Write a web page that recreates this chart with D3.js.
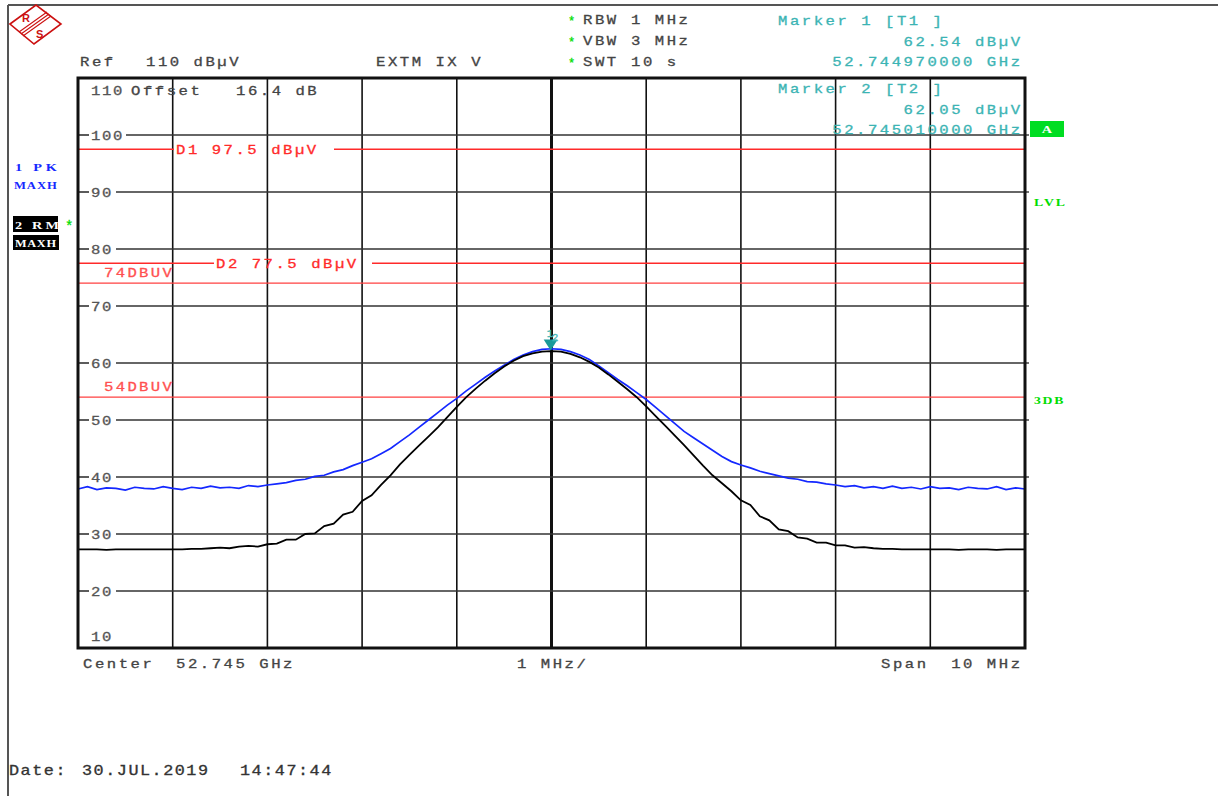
<!DOCTYPE html>
<html>
<head>
<meta charset="utf-8">
<script src="https://cdn.jsdelivr.net/npm/d3@7"></script>
<style>
  body { margin: 0; background: #fff; }
  svg text { font-family: "Liberation Mono", "DejaVu Sans Mono", monospace; white-space: pre; }
</style>
</head>
<body>
<svg id="chart" width="1218" height="796"></svg>
<script>
// sweep: 101 points, -5 .. +5 MHz around 52.745 GHz
const spanStart = -5, spanStep = 0.1;

// trace 1 (PK, MAXH) in dBµV
const trace1 = [
  37.9, 38.3, 37.8, 38.1, 38.0, 37.7, 38.2, 38.0, 37.9, 38.3,
  38.0, 37.8, 38.2, 38.0, 38.4, 38.1, 38.2, 38.0, 38.5, 38.3,
  38.6, 38.8, 39.0, 39.4, 39.6, 40.1, 40.3, 40.9, 41.3, 42.0,
  42.6, 43.2, 44.1, 45.0, 46.2, 47.4, 48.7, 50.0, 51.3, 52.6,
  53.8, 55.1, 56.3, 57.5, 58.6, 59.6, 60.6, 61.4, 62.0, 62.4,
  62.5,
  62.4, 62.0, 61.4, 60.6, 59.5, 58.3, 57.1, 56.0, 54.8, 53.6,
  52.2, 50.8, 49.4, 48.0, 46.9, 45.8, 44.7, 43.6, 42.7, 42.1,
  41.6, 41.0, 40.6, 40.2, 39.8, 39.6, 39.2, 39.1, 38.8, 38.6,
  38.3, 38.5, 38.1, 38.3, 38.0, 38.4, 38.0, 38.2, 37.9, 38.3,
  38.0, 38.1, 37.8, 38.2, 38.0, 37.9, 38.3, 37.8, 38.1, 37.9
];

// trace 2 (RM, MAXH) in dBµV
const trace2 = [
  27.3, 27.3, 27.3, 27.2, 27.3, 27.3, 27.3, 27.3, 27.3, 27.3,
  27.3, 27.3, 27.4, 27.4, 27.5, 27.6, 27.5, 27.8, 27.9, 27.8,
  28.2, 28.3, 29.0, 29.0, 30.0, 30.1, 31.4, 31.8, 33.4, 33.9,
  35.8, 36.8, 38.6, 40.3, 42.2, 43.9, 45.5, 47.1, 48.7, 50.5,
  52.3, 54.0, 55.5, 56.9, 58.2, 59.4, 60.4, 61.2, 61.7, 62.0,
  62.1,
  62.0, 61.6, 61.0, 60.2, 59.2, 58.0, 56.7, 55.4, 54.0, 52.4,
  50.7, 49.0, 47.3, 45.6, 43.8, 42.0, 40.3, 38.9, 37.5, 35.9,
  35.1, 33.1, 32.4, 30.8, 30.5, 29.4, 29.2, 28.5, 28.5, 28.0,
  28.0, 27.6, 27.7, 27.5, 27.4, 27.4, 27.3, 27.3, 27.3, 27.3,
  27.3, 27.3, 27.2, 27.3, 27.3, 27.3, 27.2, 27.3, 27.3, 27.3
];

const yTicks = [110, 100, 90, 80, 70, 60, 50, 40, 30, 20, 10];
const xGrid = [-5, -4, -3, -2, -1, 0, 1, 2, 3, 4, 5];

// display lines
const displayLines = [
  { value: 97.5, label: "D1 97.5 dBµV", lx: 176, gap: [174, 334] },
  { value: 77.5, label: "D2 77.5 dBµV", lx: 216, gap: [214, 372] }
];
const limitLines = [
  { value: 74, label: "74DBUV" },
  { value: 54, label: "54DBUV" }
];

const markers = [
  { name: "1", f: -0.03, level: 62.54 },
  { name: "2", f: 0.01, level: 62.05 }
];

const margin = { left: 78, top: 78, right: 1025, bottom: 648 };
const svg = d3.select("#chart");

const x = d3.scaleLinear().domain([-5, 5]).range([margin.left, margin.right]);
const y = d3.scaleLinear().domain([10, 110]).range([margin.bottom, margin.top]);

const RED = "#ff2a2a", TEAL = "#3cb4b4", GREEN = "#00dd00", GREY = "#444";

// monospaced screen text, glyphs widened a bit like the analyzer font
function txt(str, px, py, opts = {}) {
  const size = opts.size || 13;
  const sx = opts.sx || 1.2;
  const adv = opts.adv || 11.9;
  const ls = opts.ls != null ? opts.ls : adv / sx - 0.6 * size;
  const t = svg.append("text")
    .attr("transform", `translate(${px},${py}) scale(${sx},1)`)
    .attr("font-size", size)
    .attr("letter-spacing", ls)
    .attr("text-anchor", opts.anchor || "start")
    .attr("fill", opts.fill || "#222")
    .attr("font-weight", opts.weight || "normal")
    .style("font-family", opts.family || null)
    .text(str);
  if (!opts.family) t.attr("stroke", opts.fill || "#222").attr("stroke-width", 0.3);
  if (opts.anchor === "end") t.attr("dx", ls); // drop the trailing spacing
  return t;
}

// page frame
svg.append("line").attr("x1", 8).attr("x2", 8).attr("y1", 5).attr("y2", 796).attr("stroke", "#555").attr("stroke-width", 2);
svg.append("line").attr("x1", 8).attr("x2", 1218).attr("y1", 5).attr("y2", 5).attr("stroke", "#555").attr("stroke-width", 2);

// R&S logo
const logo = svg.append("g").attr("stroke", "#cc1111").attr("fill", "none");
logo.append("polygon").attr("points", "10,24 36,5 61,24 34,44").attr("stroke-width", 1.6);
[-2, 0, 2].forEach(o => {
  logo.append("line").attr("x1", 49 + o).attr("y1", 14 + o).attr("x2", 21 + o).attr("y2", 34 + o).attr("stroke-width", 1.1);
});
logo.append("text").attr("x", 22).attr("y", 22).attr("font-size", 11).attr("fill", "#cc1111").attr("stroke", "none")
  .attr("font-weight", "bold").style("font-family", "Liberation Sans").text("R");
logo.append("text").attr("x", 36).attr("y", 38).attr("font-size", 11).attr("fill", "#cc1111").attr("stroke", "none")
  .attr("font-weight", "bold").style("font-family", "Liberation Sans").text("S");

// header
txt("Ref", 80, 66, { fill: GREY });
txt("110 dBµV", 146, 66, { fill: GREY });
txt("EXTM IX V", 376, 66, { fill: GREY });
[["RBW", "1 MHz", 24], ["VBW", "3 MHz", 45], ["SWT", "10 s", 66]].forEach(([a, b, yy]) => {
  txt("*", 568, yy + 1, { fill: GREEN, size: 12, ls: 0, sx: 1 });
  txt(a, 583, yy, { fill: GREY });
  txt(b, 631, yy, { fill: GREY });
});
txt("Marker 1 [T1 ]", 778, 25, { fill: TEAL });
txt("62.54 dBµV", 1020, 46, { fill: TEAL, anchor: "end" });
txt("52.744970000 GHz", 1020, 66, { fill: TEAL, anchor: "end" });

// grid: vertical
svg.append("g").selectAll("line").data(xGrid.slice(1, -1)).join("line")
  .attr("x1", d => x(d)).attr("x2", d => x(d))
  .attr("y1", margin.top).attr("y2", margin.bottom)
  .attr("stroke", "#111").attr("stroke-width", d => d === 0 ? 3 : 1.6);

// grid: horizontal, broken by the level labels
const labelEnd = v => v >= 100 ? 126 : 116;
const hGrid = svg.append("g");
yTicks.slice(1, -1).forEach(v => {
  hGrid.append("line").attr("x1", margin.left).attr("x2", 89).attr("y1", y(v)).attr("y2", y(v))
    .attr("stroke", "#333").attr("stroke-width", 1.6);
  hGrid.append("line").attr("x1", labelEnd(v)).attr("x2", margin.right).attr("y1", y(v)).attr("y2", y(v))
    .attr("stroke", "#333").attr("stroke-width", 1.6);
  // small outer tick on the right frame
  hGrid.append("line").attr("x1", margin.right).attr("x2", margin.right + 4).attr("y1", y(v)).attr("y2", y(v))
    .attr("stroke", "#111").attr("stroke-width", 1.2);
});
yTicks.forEach((v, i) => {
  let cy = y(v);
  if (i === 0) cy += 12;
  if (i === yTicks.length - 1) cy -= 12;
  txt(String(v), 91, cy + 4.5, { fill: "#555", adv: 11 });
});

txt("Offset", 131, 95, { fill: GREY });
txt("16.4 dB", 236, 95, { fill: GREY });

// display lines (D1, D2)
displayLines.forEach(d => {
  svg.append("line").attr("x1", margin.left).attr("x2", d.gap[0]).attr("y1", y(d.value)).attr("y2", y(d.value))
    .attr("stroke", RED).attr("stroke-width", 1.3);
  svg.append("line").attr("x1", d.gap[1]).attr("x2", margin.right).attr("y1", y(d.value)).attr("y2", y(d.value))
    .attr("stroke", RED).attr("stroke-width", 1.3);
  txt(d.label, d.lx, y(d.value) + 4.5, { fill: RED });
});

// limit lines
limitLines.forEach(d => {
  svg.append("line").attr("x1", margin.left).attr("x2", margin.right).attr("y1", y(d.value)).attr("y2", y(d.value))
    .attr("stroke", "#ff4040").attr("stroke-width", 1.3);
  txt(d.label, 104, y(d.value) - 6, { fill: "#ff5050", adv: 11.7 });
});

// traces
const line = d3.line()
  .x((d, i) => x(spanStart + i * spanStep))
  .y(d => y(d));

svg.append("path").datum(trace1).attr("d", line)
  .attr("fill", "none").attr("stroke", "#1428ff").attr("stroke-width", 1.7);
svg.append("path").datum(trace2).attr("d", line)
  .attr("fill", "none").attr("stroke", "#000").attr("stroke-width", 1.8);

// markers
const mx = x(markers[0].f) + 2;
const my = y(markers[0].level) + 2;
svg.append("path")
  .attr("d", `M${mx - 7},${my - 11} L${mx + 7},${my - 11} L${mx},${my} Z`)
  .attr("fill", "#1a9a9a");
txt(markers[0].name, mx - 4, my - 14, { fill: TEAL, size: 11, ls: 0, sx: 1 });
txt(markers[1].name, mx + 1, my - 10, { fill: TEAL, size: 11, ls: 0, sx: 1 });

// marker 2 readout (drawn inside the grid)
txt("Marker 2 [T2 ]", 778, 93, { fill: TEAL });
txt("62.05 dBµV", 1020, 114, { fill: TEAL, anchor: "end" });
txt("52.745010000 GHz", 1020, 134, { fill: TEAL, anchor: "end" });

// plot frame
svg.append("rect").attr("x", margin.left).attr("y", margin.top)
  .attr("width", margin.right - margin.left).attr("height", margin.bottom - margin.top)
  .attr("fill", "none").attr("stroke", "#111").attr("stroke-width", 3);

// left status labels
const serif = "Liberation Serif";
txt("1 PK", 15, 171, { fill: "#1428ff", size: 11, weight: "bold", ls: 2.9, sx: 1.3, family: serif });
txt("MAXH", 14, 189, { fill: "#1428ff", size: 11, weight: "bold", ls: 0.8, sx: 1.15, family: serif });
svg.append("rect").attr("x", 13).attr("y", 216).attr("width", 45).attr("height", 16).attr("fill", "#000");
txt("2 RM", 15, 229, { fill: "#fff", size: 11, weight: "bold", ls: 2.4, sx: 1.3, family: serif });
txt("*", 65, 231, { fill: GREEN, size: 14, ls: 0, sx: 1 });
svg.append("rect").attr("x", 13).attr("y", 235).attr("width", 46).attr("height", 15).attr("fill", "#000");
txt("MAXH", 15, 247, { fill: "#fff", size: 11, weight: "bold", ls: 0.6, sx: 1.12, family: serif });

// right status labels
svg.append("rect").attr("x", 1030).attr("y", 121).attr("width", 34).attr("height", 16).attr("fill", "#00dd22");
txt("A", 1047, 133, { fill: "#fff", size: 11, weight: "bold", ls: 0, sx: 1.3, anchor: "middle", family: serif });
txt("LVL", 1034, 206, { fill: GREEN, size: 11, weight: "bold", ls: 1.6, sx: 1.25, family: serif });
txt("3DB", 1034, 404, { fill: GREEN, size: 11, weight: "bold", ls: 1.4, sx: 1.25, family: serif });

// footer
txt("Center", 83, 668, { fill: GREY });
txt("52.745 GHz", 176, 668, { fill: GREY });
txt("1 MHz/", 517, 668, { fill: GREY });
txt("Span", 881, 668, { fill: GREY });
txt("10 MHz", 1020, 668, { fill: GREY, anchor: "end" });
txt("Date:", 9, 775, { fill: "#333", size: 14, adv: 11.6 });
txt("30.JUL.2019", 82, 775, { fill: "#333", size: 14, adv: 11.6 });
txt("14:47:44", 240, 775, { fill: "#333", size: 14, adv: 11.6 });
</script>
</body>
</html>
